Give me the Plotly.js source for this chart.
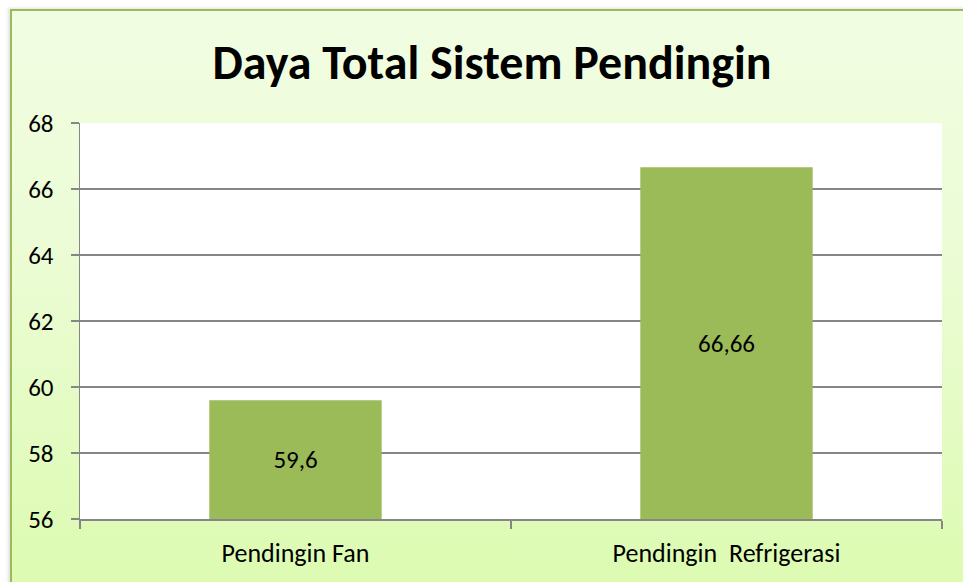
<!DOCTYPE html>
<html>
<head>
<meta charset="utf-8">
<script src="https://cdn.plot.ly/plotly-3.0.1.min.js"></script>
<style>
  html, body { margin: 0; padding: 0; background: #ffffff; }
  #wrap { position: relative; width: 963px; height: 582px; overflow: hidden; }
  #bg {
    position: absolute; left: 10px; top: 9px; width: 960px; height: 580px;
    border-left: 2px solid #9bbb59; border-top: 2px solid #9bbb59;
    background: linear-gradient(to bottom, #f1fde2 0%, #ecfcd6 40%, #dcfbb0 100%);
    box-shadow: -2px -1px 3px rgba(0,0,0,0.12);
  }
  #chart { position: absolute; left: 0; top: 0; width: 963px; height: 582px; }
</style>
</head>
<body>
<div id="wrap">
  <div id="bg"></div>
  <div id="chart"></div>
</div>
<script>
const categories = ["Pendingin Fan", "Pendingin\u00A0 Refrigerasi"];
const values = [59.6, 66.66];
const yTicks = [56, 58, 60, 62, 64, 66, 68];
const chartTitle = "Daya Total Sistem Pendingin";

const axisMin = yTicks[0];
const labels = values.map(v => String(v).replace(".", ","));
const fontFamily = "Carlito, Calibri, Lato, 'Open Sans', sans-serif";

const trace = {
  type: "bar",
  x: categories,
  y: values.map(v => v - axisMin),
  base: axisMin,
  text: labels,
  textposition: "inside",
  insidetextanchor: "middle",
  textangle: 0,
  textfont: { family: fontFamily, size: 25, color: "#000000" },
  marker: { color: "#9bbb59", line: { width: 0 } },
  hoverinfo: "none"
};

const layout = {
  width: 963,
  height: 582,
  margin: { l: 80, r: 21, t: 123, b: 63 },
  paper_bgcolor: "rgba(0,0,0,0)",
  plot_bgcolor: "#ffffff",
  showlegend: false,
  bargap: 0.6,
  font: { family: fontFamily, size: 25, color: "#000000" },
  title: {
    text: "<b>" + chartTitle + "</b>",
    font: { family: fontFamily, size: 48, color: "#000000" },
    xref: "container", x: 0.511, xanchor: "center",
    yref: "container", y: 0.893, yanchor: "middle"
  },
  xaxis: {
    type: "category",
    tickson: "boundaries",
    ticks: "outside",
    ticklen: 8,
    tickwidth: 1.5,
    tickcolor: "#868686",
    showline: true,
    linecolor: "#868686",
    linewidth: 1.5,
    showgrid: false,
    tickfont: { family: fontFamily, size: 26, color: "#000000" },
    ticklabelstandoff: 10,
    fixedrange: true
  },
  yaxis: {
    range: [56, 68],
    tickvals: yTicks,
    ticktext: yTicks.map(String),
    ticks: "outside",
    ticklen: 8,
    tickwidth: 1.5,
    tickcolor: "#868686",
    showline: true,
    linecolor: "#868686",
    linewidth: 1.5,
    showgrid: true,
    gridcolor: "#868686",
    gridwidth: 1.5,
    zeroline: false,
    tickfont: { family: fontFamily, size: 25, color: "#000000" },
    ticklabelstandoff: 12,
    fixedrange: true
  }
};

Plotly.newPlot("chart", [trace], layout, { displayModeBar: false, staticPlot: true });
</script>
</body>
</html>
